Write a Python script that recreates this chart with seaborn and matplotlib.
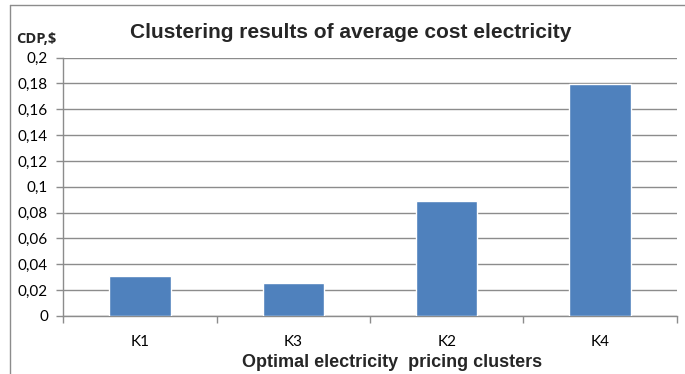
import matplotlib
matplotlib.use("Agg")
import matplotlib.pyplot as plt
from matplotlib.lines import Line2D
from matplotlib.ticker import FixedLocator, MultipleLocator, FuncFormatter
import seaborn as sns
import pandas as pd

# Cluster labels (in displayed order) and average electricity cost per cluster
clusters = ["K1", "K3", "K2", "K4"]
avg_cost = [0.031, 0.025, 0.089, 0.18]

title = "Clustering results of average cost electricity"
x_label = "Optimal electricity  pricing clusters"
y_label = "CDP,$"

df = pd.DataFrame({"cluster": clusters, "cost": avg_cost})

sns.set_theme(style="white")
plt.rcParams["font.family"] = ["Lato", "DejaVu Sans"]

fig = plt.figure(figsize=(6.85, 3.74), dpi=100)
ax = fig.add_axes([63.3 / 685, 1 - 315.7 / 374, (676.7 - 63.3) / 685, (315.7 - 57.7) / 374])

sns.barplot(data=df, x="cluster", y="cost", order=clusters, color="#4F81BD",
            saturation=1, width=0.4, ax=ax, zorder=3)

grey = "#8c8c8c"
ax.set_xlim(-0.5, len(clusters) - 0.5)
ax.set_ylim(0, 0.2)
ax.yaxis.set_major_locator(MultipleLocator(0.02))


def comma_fmt(v, _pos):
    s = f"{v:.2f}".rstrip("0").rstrip(".")
    return s.replace(".", ",")


ax.yaxis.set_major_formatter(FuncFormatter(comma_fmt))
ax.grid(axis="y", color=grey, linewidth=1.0, zorder=0)
ax.set_axisbelow(True)

for side in ("top", "right"):
    ax.spines[side].set_visible(False)
for side in ("left", "bottom"):
    ax.spines[side].set_color(grey)
    ax.spines[side].set_linewidth(1.0)

# y ticks point outwards, x ticks sit on category boundaries
ax.tick_params(axis="y", which="major", direction="out", length=5, width=1,
               color=grey, pad=6, labelsize=11, labelcolor="black", left=True)
ax.tick_params(axis="x", which="major", length=0, pad=14, labelsize=11,
               labelcolor="black")
ax.xaxis.set_minor_locator(FixedLocator([i - 0.5 for i in range(len(clusters) + 1)]))
ax.tick_params(axis="x", which="minor", direction="out", length=5, width=1,
               color=grey, bottom=True)

ax.set_xlabel(x_label, fontsize=13, fontweight="bold",
              family=["Liberation Sans", "DejaVu Sans"])
ax.xaxis.label.set_va("baseline")
ax.xaxis.set_label_coords((392 - 63.3) / 613.4, -(367 - 315.7) / 258.0)
ax.set_ylabel("")

fig.text(350.5 / 685, 1 - 38 / 374, title, ha="center", va="baseline",
         fontsize=15, fontweight="bold", family=["Liberation Sans", "DejaVu Sans"])
fig.text(16 / 685, 1 - 43 / 374, y_label, ha="left", va="baseline",
         fontsize=10.5, fontweight="bold", family=["Open Sans", "DejaVu Sans"])

# Chart frame (left and top edges)
fig.add_artist(Line2D([10 / 685, 10 / 685], [0, 1 - 5 / 374], transform=fig.transFigure,
                      color=grey, linewidth=1))
fig.add_artist(Line2D([10 / 685, 1], [1 - 5 / 374, 1 - 5 / 374], transform=fig.transFigure,
                      color=grey, linewidth=1))

fig.savefig("out.png", dpi=100)
